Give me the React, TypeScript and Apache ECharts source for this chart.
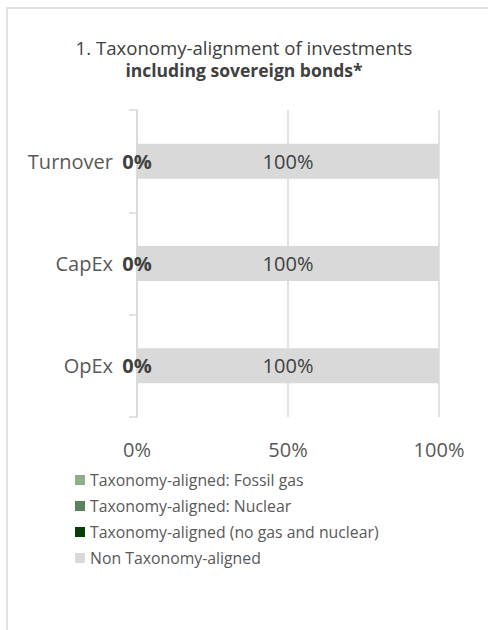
import React, { useEffect, useRef } from "react";
import * as echarts from "echarts";

const categories = ["Turnover", "CapEx", "OpEx"];
const fossilGas = [0, 0, 0];
const nuclear = [0, 0, 0];
const alignedNoGasNuclear = [0, 0, 0];
const nonAligned = [100, 100, 100];
const seriesNames = [
  "Taxonomy-aligned: Fossil gas",
  "Taxonomy-aligned: Nuclear",
  "Taxonomy-aligned (no gas and nuclear)",
  "Non Taxonomy-aligned",
];
const titleLine1 = "1. Taxonomy-alignment of investments";
const titleLine2 = "including sovereign bonds*";
const xMin = 0;
const xMax = 100;
const xInterval = 50;

const FONT = "'Open Sans', sans-serif";

export default function App() {
  const ref = useRef<HTMLDivElement>(null);
  useEffect(() => {
    if (!ref.current) return;
    const chart = echarts.init(ref.current, undefined, { renderer: "svg" });
    const colors = ["#8fac8c", "#5b835b", "#0b3b0b", "#d9d9d9"];
    const dataSets = [fossilGas, nuclear, alignedNoGasNuclear, nonAligned];
    const series = dataSets.map((d, i) => ({
      name: seriesNames[i],
      type: "bar",
      stack: "total",
      data: d,
      barWidth: 35,
      itemStyle: { color: colors[i] },
      label:
        i === 2
          ? {
              show: true,
              position: "inside",
              formatter: "{c}%",
              fontFamily: FONT,
              fontSize: 20,
              fontWeight: "bold",
              color: "#404040",
            }
          : i === 3
          ? {
              show: true,
              position: "inside",
              formatter: "{c}%",
              fontFamily: FONT,
              fontSize: 20,
              color: "#404040",
            }
          : { show: false },
      z: i === 2 ? 5 : 2,
    }));
    chart.setOption({
      animation: false,
      backgroundColor: "#ffffff",
      title: [
        {
          text: titleLine1,
          left: "center",
          top: 37,
          padding: 0,
          textStyle: {
            fontFamily: FONT,
            fontSize: 18.6,
            lineHeight: 20,
            fontWeight: "normal",
            color: "#404040",
          },
        },
        {
          text: titleLine2,
          left: "center",
          top: 60,
          padding: 0,
          textStyle: {
            fontFamily: FONT,
            fontSize: 17.5,
            lineHeight: 20,
            fontWeight: "bold",
            color: "#404040",
          },
        },
      ],
      legend: {
        orient: "vertical",
        left: 70,
        top: 467,
        itemWidth: 10,
        itemHeight: 10,
        itemGap: 10,
        icon: "rect",
        data: seriesNames,
        textStyle: {
          fontFamily: FONT,
          fontSize: 15.8,
          lineHeight: 16,
          color: "#595959",
        },
      },
      grid: { left: 137, right: 49, top: 110, bottom: 213, containLabel: false },
      xAxis: {
        type: "value",
        min: xMin,
        max: xMax,
        interval: xInterval,
        axisLine: { show: false },
        axisTick: { show: false },
        splitLine: { lineStyle: { color: "#d9d9d9", width: 1.5 } },
        axisLabel: {
          formatter: "{value}%",
          fontFamily: FONT,
          fontSize: 20,
          color: "#595959",
          margin: 22,
        },
      },
      yAxis: {
        type: "category",
        inverse: true,
        data: categories,
        axisLine: { show: true, lineStyle: { color: "#d9d9d9", width: 1.5 } },
        axisTick: { show: true, length: 8, lineStyle: { color: "#d9d9d9", width: 1.5 } },
        axisLabel: {
          fontFamily: FONT,
          fontSize: 20,
          color: "#595959",
          margin: 24,
        },
      },
      graphic: [
        {
          type: "rect",
          shape: { x: 7, y: 8, width: 520, height: 700 },
          style: { fill: "none", stroke: "#d9d9d9", lineWidth: 1.5 },
          silent: true,
          z: -1,
        },
      ],
      series,
    });
    return () => chart.dispose();
  }, []);
  return (
    <div
      ref={ref}
      style={{ position: "fixed", left: 0, top: 0, width: 488, height: 630 }}
    />
  );
}
